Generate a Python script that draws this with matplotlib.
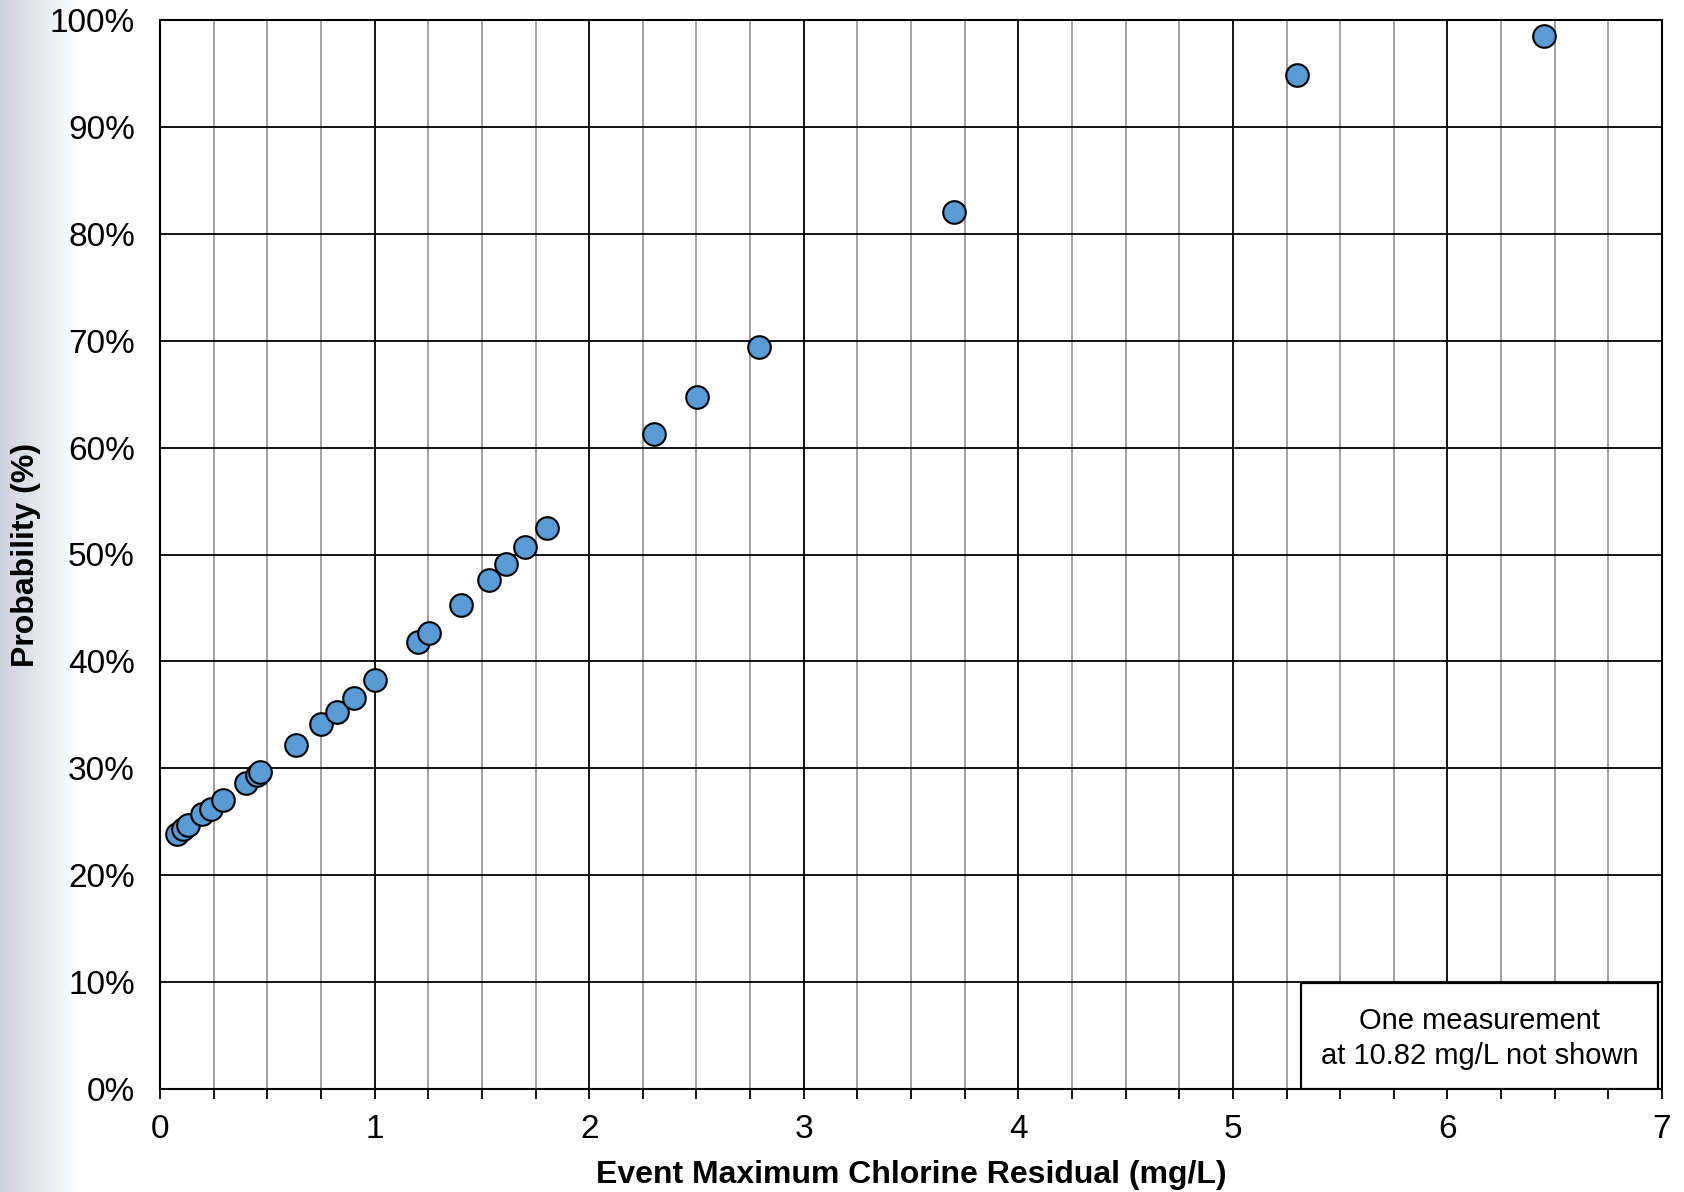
import numpy as np
import matplotlib
matplotlib.use('Agg')
import matplotlib.pyplot as plt
from matplotlib.patches import Rectangle
from matplotlib.ticker import MultipleLocator, FuncFormatter

plt.rcParams['font.family'] = ['Liberation Sans', 'DejaVu Sans']

# event max chlorine residual (mg/L) vs cumulative probability (%)
chlorine = [0.08, 0.105, 0.13, 0.195, 0.24, 0.295, 0.40, 0.45, 0.465,
            0.634, 0.752, 0.823, 0.904, 1.004, 1.201, 1.254, 1.401, 1.532,
            1.613, 1.703, 1.804, 2.302, 2.503, 2.793, 3.699, 5.30, 6.452]
prob = [23.9, 24.3, 24.7, 25.7, 26.2, 27.0, 28.6, 29.4, 29.7,
        32.2, 34.1, 35.3, 36.6, 38.3, 41.8, 42.7, 45.3, 47.6,
        49.1, 50.7, 52.5, 61.3, 64.7, 69.4, 82.0, 94.9, 98.5]
note = 'One measurement\nat 10.82 mg/L not shown'

fig = plt.figure(figsize=(16.84, 11.92), dpi=100)

# left edge shading
bg = fig.add_axes([0, 0, 80 / 1684, 1], zorder=-10)
grad = np.linspace(0, 1, 256).reshape(1, -1)
cmap = matplotlib.colors.LinearSegmentedColormap.from_list('edge', ['#cbd3df', '#ffffff'])
bg.imshow(grad, aspect='auto', cmap=cmap, extent=[0, 1, 0, 1])
bg.axis('off')

ax = fig.add_axes([160 / 1684, 1 - 1089 / 1192, 1502 / 1684, 1069 / 1192])
ax.set_xlim(0, 7)
ax.set_ylim(0, 100)

ax.xaxis.set_major_locator(MultipleLocator(1))
ax.xaxis.set_minor_locator(MultipleLocator(0.25))
ax.yaxis.set_major_locator(MultipleLocator(10))
ax.yaxis.set_major_formatter(FuncFormatter(lambda v, p: f'{v:.0f}%'))

ax.grid(which='minor', axis='x', color='#999999', linewidth=1.3)
ax.grid(which='major', axis='both', color='black', linewidth=1.3)
ax.set_axisbelow(True)

ax.tick_params(axis='x', which='both', direction='out', length=7, width=1.3, labelsize=24, pad=11)
ax.tick_params(axis='y', which='both', length=0, labelsize=24, pad=18)
for s in ax.spines.values():
    s.set_linewidth(1.5)

ax.scatter(chlorine, prob, s=265, color='#5B9BD5', edgecolors='black',
           linewidths=1.5, zorder=3, clip_on=False)

ax.set_xlabel('Event Maximum Chlorine Residual (mg/L)', fontsize=23, fontweight='bold')
ax.xaxis.set_label_coords(0.5, -0.066)
ax.set_ylabel('Probability (%)', fontsize=23, fontweight='bold')
ax.yaxis.set_label_coords(-0.079, 0.5)

box = Rectangle((0.7597, 0.0), 0.2377, 0.0992, transform=ax.transAxes,
                facecolor='white', edgecolor='black', linewidth=1.6, zorder=4)
ax.add_patch(box)
ax.text(0.7597 + 0.2377 / 2, 0.047, note, transform=ax.transAxes,
        ha='center', va='center', fontsize=21, linespacing=1.3, zorder=5)

fig.savefig('out.png', dpi=100)
